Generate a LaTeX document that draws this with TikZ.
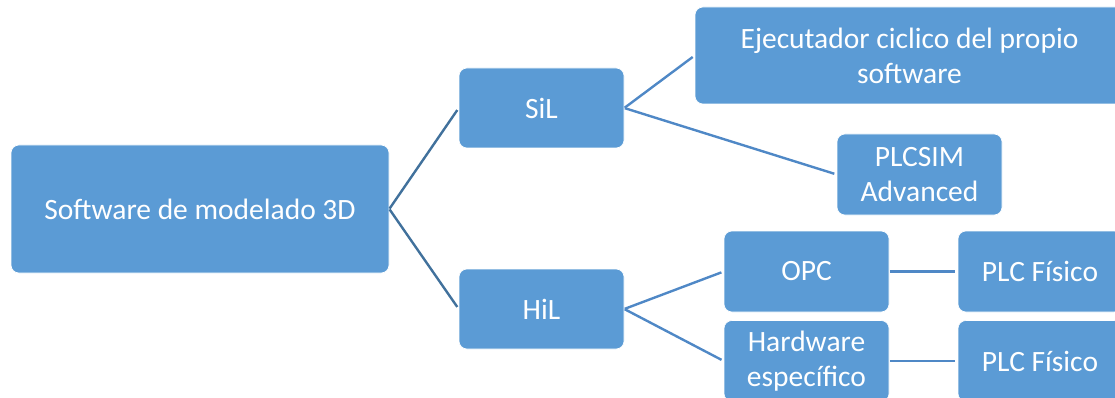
\documentclass[tikz,border=0pt]{standalone}
\usepackage{fontspec}
\setmainfont{Carlito}
\definecolor{boxblue}{HTML}{5B9BD5}
\definecolor{linkdark}{HTML}{41719C}
\definecolor{linklight}{HTML}{4F88C6}
\tikzset{
    box/.style={rounded corners=8pt, fill=boxblue, draw=white, line width=0.6pt,
        text=white, align=center, font=\fontsize{29.5}{35}\selectfont, inner sep=0pt},
    link/.style={line width=2.4pt, shorten >=2.5pt, shorten <=0.5pt},
}
\begin{document}
\begin{tikzpicture}[x=1pt, y=-1pt]
            \useasboundingbox (0,0) rectangle (1115,398);

            \node[box, minimum width=378pt, minimum height=128pt] (root) at (200,209) {Software de modelado 3D};
            \node[box, minimum width=165pt, minimum height=80pt] (sil) at (541.5,108) {SiL};
            \node[box, minimum width=165pt, minimum height=80pt] (hil) at (541.5,309) {HiL};

            \node[box, minimum width=429pt, minimum height=97pt] (ejec) at (909.5,55.5) {Ejecutador ciclico del propio\\software};
            \node[box, minimum width=165pt, minimum height=81pt] (plcsim) at (919.5,174.5) {PLCSIM\\Advanced};

            \node[box, minimum width=165pt, minimum height=81pt] (opc) at (806.5,271.5) {OPC};
            \node[box, minimum width=165pt, minimum height=81pt] (hw) at (806.5,361) {Hardware\\espec\'ifico};
            \node[box, minimum width=164pt, minimum height=81pt] (plca) at (1040,271.5) {PLC F\'isico};
            \node[box, minimum width=164pt, minimum height=81pt] (plcb) at (1040,361) {PLC F\'isico};

            \draw[link, linkdark] (root.east) -- (sil.west);
            \draw[link, linkdark] (root.east) -- (hil.west);

            \draw[link, linklight] (sil.east) -- (ejec.west);
            \draw[link, linklight] (sil.east) -- (plcsim.west);
            \draw[link, linklight] (hil.east) -- (opc.west);
            \draw[link, linklight] (hil.east) -- (hw.west);

            \draw[link, linklight] (opc.east) -- (plca.west);
            \draw[link, linklight] (hw.east) -- (plcb.west);
        \end{tikzpicture}
\end{document}
